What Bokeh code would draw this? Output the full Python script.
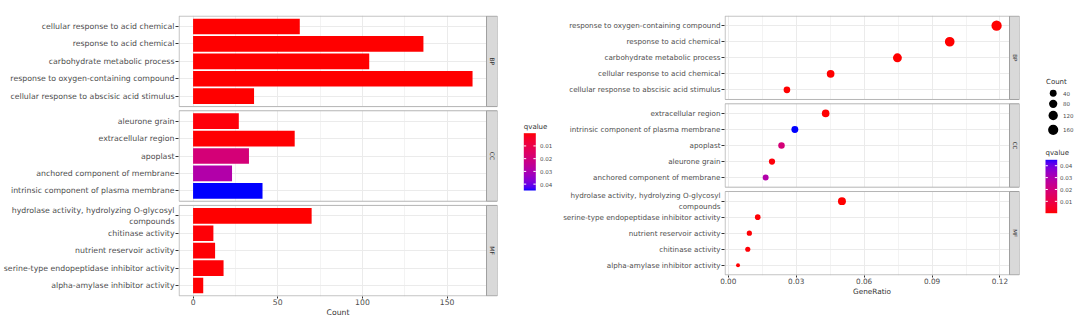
import math
import textwrap
import numpy as np
from bokeh.plotting import figure
from bokeh.models import (Range1d, FixedTicker, ColumnDataSource, LinearColorMapper,
                          PrintfTickFormatter)
from bokeh.layouts import row
from bokeh.embed import file_html
from bokeh.resources import INLINE
from bokeh.core.properties import value

# ---------------- data ----------------
terms = [
    "response to oxygen-containing compound",
    "response to acid chemical",
    "carbohydrate metabolic process",
    "cellular response to acid chemical",
    "cellular response to abscisic acid stimulus",
    "extracellular region",
    "intrinsic component of plasma membrane",
    "apoplast",
    "aleurone grain",
    "anchored component of membrane",
    "hydrolase activity, hydrolyzing O-glycosyl compounds",
    "serine-type endopeptidase inhibitor activity",
    "nutrient reservoir activity",
    "chitinase activity",
    "alpha-amylase inhibitor activity",
]
ontology = ["BP"] * 5 + ["CC"] * 5 + ["MF"] * 5
count = [165, 136, 104, 63, 36, 60, 41, 33, 27, 23, 70, 18, 13, 12, 6]
gene_ratio = [0.1185, 0.0978, 0.0747, 0.0452, 0.0259,
              0.0430, 0.0294, 0.0235, 0.0193, 0.0165,
              0.0502, 0.0130, 0.0093, 0.0086, 0.0043]
qvalue = [1e-7, 1e-7, 1e-6, 1e-5, 1e-4,
          0.0002, 0.045, 0.019, 0.0008, 0.029,
          1e-7, 0.0005, 0.0004, 0.0006, 0.0003]

ontologies = ["BP", "CC", "MF"]
# order of the bar chart rows (top to bottom) per panel
bar_order = {
    "BP": ["cellular response to acid chemical", "response to acid chemical",
           "carbohydrate metabolic process", "response to oxygen-containing compound",
           "cellular response to abscisic acid stimulus"],
    "CC": ["aleurone grain", "extracellular region", "apoplast",
           "anchored component of membrane", "intrinsic component of plasma membrane"],
    "MF": ["hydrolase activity, hydrolyzing O-glycosyl compounds", "chitinase activity",
           "nutrient reservoir activity", "serine-type endopeptidase inhibitor activity",
           "alpha-amylase inhibitor activity"],
}
count_breaks = [40, 80, 120, 160]
q_breaks = [0.01, 0.02, 0.03, 0.04]
count_ticks = [0, 50, 100, 150]
count_minor = [25, 75, 125]
ratio_ticks = [0.0, 0.03, 0.06, 0.09, 0.12]
ratio_minor = [0.015, 0.045, 0.075, 0.105]

# ---------------- style ----------------
FONT = "DejaVu Sans"
TXT = "#4D4D4D"
GRID = "#EBEBEB"
BORDER = "#B5B5B5"
STRIP_FILL = "#D9D9D9"
STRIP_LINE = "#A0A0A0"
H = 320
TOP_B, BOT_B = 15, 24


# ---------------- colour scale (red -> blue, Lab interpolation) ----------------
def _lin(c):
    c = c / 255.0
    return c / 12.92 if c <= 0.04045 else ((c + 0.055) / 1.055) ** 2.4


def _delin(c):
    c = max(0.0, min(1.0, c))
    c = 12.92 * c if c <= 0.0031308 else 1.055 * c ** (1 / 2.4) - 0.055
    return int(max(0, min(255, round(c * 255))))


XN, YN, ZN = 0.95047, 1.0, 1.08883


def rgb2lab(r, g, b):
    R, G, B = _lin(r), _lin(g), _lin(b)
    X = 0.4124564 * R + 0.3575761 * G + 0.1804375 * B
    Y = 0.2126729 * R + 0.7151522 * G + 0.0721750 * B
    Z = 0.0193339 * R + 0.1191920 * G + 0.9503041 * B

    def f(t):
        return t ** (1 / 3) if t > 216 / 24389 else (24389 / 27 * t + 16) / 116
    fx, fy, fz = f(X / XN), f(Y / YN), f(Z / ZN)
    return 116 * fy - 16, 500 * (fx - fy), 200 * (fy - fz)


def lab2hex(L, a, b):
    fy = (L + 16) / 116
    fx = fy + a / 500
    fz = fy - b / 200

    def finv(t):
        return t ** 3 if t ** 3 > 216 / 24389 else (116 * t - 16) / (24389 / 27)
    X, Y, Z = finv(fx) * XN, finv(fy) * YN, finv(fz) * ZN
    R = 3.2404542 * X - 1.5371385 * Y - 0.4985314 * Z
    G = -0.9692660 * X + 1.8760108 * Y + 0.0415560 * Z
    B = 0.0556434 * X - 0.2040259 * Y + 1.0572252 * Z
    return "#%02x%02x%02x" % (_delin(R), _delin(G), _delin(B))


lab_lo = rgb2lab(255, 0, 0)
lab_hi = rgb2lab(0, 0, 255)
palette = [lab2hex(*[lo + (hi - lo) * i / 255 for lo, hi in zip(lab_lo, lab_hi)]) for i in range(256)]

q_lo, q_hi = min(qvalue), max(qvalue)
mapper = LinearColorMapper(palette=palette, low=q_lo, high=q_hi)

# ---------------- helpers ----------------
PANEL = 5.2


def wrap_label(s):
    return "\n".join(textwrap.wrap(s, 42)) if len(s) > 45 else s


def layout_rows(orders, gap):
    total = 3 * PANEL + 2 * gap
    ys, names, panels = [], [], []
    for k, ont in enumerate(ontologies):
        top = total - k * (PANEL + gap)
        panels.append((top - PANEL, top))
        for i, t in enumerate(orders[ont]):
            ys.append(round(top - 0.6 - i, 4))
            names.append(t)
    return total, ys, names, panels


def style_fig(p, label_size, tick_size):
    p.outline_line_color = None
    p.background_fill_color = "white"
    for ax in (p.xaxis[0], p.yaxis[0]):
        ax.axis_line_color = None
        ax.major_tick_line_color = "#333333"
        ax.major_tick_out = 3
        ax.major_tick_in = 0
        ax.minor_tick_line_color = None
        ax.major_label_text_font = FONT
        ax.major_label_text_color = TXT
        ax.major_label_standoff = 1
    p.xaxis.major_tick_out = 2
    p.xaxis.major_label_standoff = 0
    p.yaxis.major_label_text_font_size = label_size
    p.xaxis.major_label_text_font_size = tick_size
    p.xaxis.axis_label_text_font = FONT
    p.xaxis.axis_label_text_font_style = "normal"
    p.xaxis.axis_label_text_font_size = tick_size
    p.xaxis.axis_label_text_color = "#333333"
    p.xaxis.axis_label_standoff = 0
    p.xgrid.grid_line_color = GRID
    p.xgrid.minor_grid_line_color = GRID
    p.xgrid.minor_grid_line_width = 0.6
    p.ygrid.grid_line_color = GRID


def decorate(p, panels, xlo, xhi_panel, xhi_frame, strip_font):
    # white gaps between panels (hide the grid there)
    for k in range(len(panels) - 1):
        p.quad(left=xlo - 1e3, right=xhi_frame + 1e3, bottom=panels[k + 1][1], top=panels[k][0],
               fill_color="white", line_color=None)
    for (b, t), ont in zip(panels, ontologies):
        p.quad(left=xlo, right=xhi_panel, bottom=b, top=t, fill_color=None,
               line_color=BORDER, line_width=1)
        p.quad(left=xhi_panel, right=xhi_frame, bottom=b, top=t, fill_color=STRIP_FILL,
               line_color=STRIP_LINE, line_width=1)
        p.text(x=[(xhi_panel + xhi_frame) / 2], y=[(b + t) / 2], text=[ont], angle=-math.pi / 2,
               text_align="center", text_baseline="middle", text_font=value(FONT),
               text_font_size=strip_font, text_color="#333333")


def legend_fig(width):
    # frame spans the whole width and y 15..296 px; data y = 320 - pixel row
    p = figure(width=width, height=H, x_range=Range1d(0, width), y_range=Range1d(BOT_B, H - TOP_B),
               min_border_left=0, min_border_right=0, min_border_top=TOP_B,
               min_border_bottom=BOT_B, output_backend="svg", toolbar_location=None,
               x_axis_location=None, y_axis_location=None, outline_line_color=None)
    p.grid.visible = False
    return p


def draw_colorbar(p, x0, top_px, bot_px, width, reverse, label_x):
    n = 200
    y0, y1 = H - bot_px, H - top_px
    if reverse:   # low q at top
        grad = np.linspace(q_hi, q_lo, n).reshape(n, 1)
    else:
        grad = np.linspace(q_lo, q_hi, n).reshape(n, 1)
    p.image(image=[grad], x=x0, y=y0, dw=width, dh=y1 - y0, color_mapper=mapper)
    ys = []
    for qb in q_breaks:
        frac = (qb - q_lo) / (q_hi - q_lo)
        ys.append(y1 - frac * (y1 - y0) if reverse else y0 + frac * (y1 - y0))
    tl = width * 0.2
    p.segment(x0=[x0] * len(ys), y0=ys, x1=[x0 + tl] * len(ys), y1=ys, line_color="white", line_width=1)
    p.segment(x0=[x0 + width - tl] * len(ys), y0=ys, x1=[x0 + width] * len(ys), y1=ys,
              line_color="white", line_width=1)
    p.text(x=[label_x] * len(ys), y=ys, text=["%.2f" % v for v in q_breaks], text_font=value(FONT),
           text_font_size="5.5px", text_color=TXT, text_align="left", text_baseline="middle")
    p.text(x=[x0], y=[y1 + 6.5], text=["qvalue"], text_font=value(FONT), text_font_size="7px",
           text_color="#333333", text_align="left", text_baseline="middle")


# ---------------- left: bar chart ----------------
lookup = {t: i for i, t in enumerate(terms)}
W1, LB1, RB1 = 510, 178, 13
STRIP1 = 11
H1 = H
T1, ys1, names1, panels1 = layout_rows(bar_order, 0.24)
cmax = max(count)
x1lo, x1hi = -0.05 * cmax, 1.05 * cmax
fw1 = W1 - LB1 - RB1
fh1 = H1 - TOP_B - BOT_B
x1frame = x1hi + (x1hi - x1lo) * STRIP1 / (fw1 - STRIP1)
pad_x1 = (x1frame - x1lo) / fw1 * 0.6
pad_y1 = T1 / fh1 * 0.6

src1 = ColumnDataSource(dict(
    y=ys1,
    count=[count[lookup[t]] for t in names1],
    q=[qvalue[lookup[t]] for t in names1],
))
p1 = figure(width=W1, height=H1, x_range=Range1d(x1lo - pad_x1, x1frame),
            y_range=Range1d(-pad_y1, T1 + pad_y1),
            min_border_left=LB1, min_border_right=RB1, min_border_top=TOP_B, min_border_bottom=BOT_B,
            output_backend="svg", toolbar_location=None)
style_fig(p1, "7.8px", "7.7px")
p1.xgrid.ticker = FixedTicker(ticks=count_ticks, minor_ticks=count_minor)
p1.ygrid.ticker = FixedTicker(ticks=ys1)
decorate(p1, panels1, x1lo, x1hi, x1frame, "6px")
p1.hbar(y="y", left=0, right="count", height=0.9, source=src1,
        fill_color={"field": "q", "transform": mapper}, line_color=None)
p1.xaxis.ticker = FixedTicker(ticks=count_ticks)
p1.xaxis.axis_label = "Count"
p1.yaxis.ticker = FixedTicker(ticks=ys1)
p1.yaxis.major_label_overrides = {y: wrap_label(t) for y, t in zip(ys1, names1)}

leg1 = legend_fig(50)
draw_colorbar(leg1, 13.3, 132.7, 190.0, 12, True, 29.5)

# ---------------- right: dot plot ----------------
dot_order = {}
for ont in ontologies:
    idx = [i for i in range(len(terms)) if ontology[i] == ont]
    idx.sort(key=lambda i: -gene_ratio[i])
    dot_order[ont] = [terms[i] for i in idx]

W2, LB2, RB2 = 460, 164, 1
H2 = 299
STRIP2 = 10
T2, ys2, names2, panels2 = layout_rows(dot_order, 0.27)
rmin, rmax = min(gene_ratio), max(gene_ratio)
x2lo, x2hi = rmin - 0.05 * (rmax - rmin), rmax + 0.05 * (rmax - rmin)
fw2 = W2 - LB2 - RB2
fh2 = H2 - TOP_B - BOT_B
x2frame = x2hi + (x2hi - x2lo) * STRIP2 / (fw2 - STRIP2)
pad_x2 = (x2frame - x2lo) / fw2 * 0.6
pad_y2 = T2 / fh2 * 0.6

D_MIN, D_MAX = 3.9, 10.3


def dot_size(v):
    return D_MIN + (D_MAX - D_MIN) * math.sqrt(max(0.0, (v - min(count)) / (max(count) - min(count))))


src2 = ColumnDataSource(dict(
    y=ys2,
    r=[gene_ratio[lookup[t]] for t in names2],
    q=[qvalue[lookup[t]] for t in names2],
    s=[dot_size(count[lookup[t]]) for t in names2],
))
p2 = figure(width=W2, height=H2, x_range=Range1d(x2lo - pad_x2, x2frame),
            y_range=Range1d(-pad_y2, T2 + pad_y2),
            min_border_left=LB2, min_border_right=RB2, min_border_top=TOP_B, min_border_bottom=BOT_B,
            output_backend="svg", toolbar_location=None)
style_fig(p2, "7.2px", "7.3px")
p2.xgrid.ticker = FixedTicker(ticks=ratio_ticks, minor_ticks=ratio_minor)
p2.ygrid.ticker = FixedTicker(ticks=ys2)
decorate(p2, panels2, x2lo, x2hi, x2frame, "5.5px")
p2.scatter(x="r", y="y", size="s", source=src2,
           fill_color={"field": "q", "transform": mapper}, line_color=None)
p2.xaxis.ticker = FixedTicker(ticks=ratio_ticks)
p2.xaxis.formatter = PrintfTickFormatter(format="%.2f")
p2.xaxis.axis_label = "GeneRatio"
p2.yaxis.ticker = FixedTicker(ticks=ys2)
p2.yaxis.major_label_overrides = {y: wrap_label(t) for y, t in zip(ys2, names2)}

# right legends
leg2 = legend_fig(60)
key_px = [92.7, 103.3, 115.0, 129.3]
key_y = [H - v for v in key_px]
leg2.text(x=[25.5], y=[H - 81], text=["Count"], text_font=value(FONT), text_font_size="7px",
          text_color="#333333", text_align="left", text_baseline="middle")
leg2.scatter(x=[32.7] * len(count_breaks), y=key_y, size=[dot_size(v) for v in count_breaks],
             fill_color="black", line_color=None)
leg2.text(x=[42.5] * len(count_breaks), y=key_y, text=[str(v) for v in count_breaks],
          text_font=value(FONT), text_font_size="5.5px", text_color=TXT,
          text_align="left", text_baseline="middle")
draw_colorbar(leg2, 25.0, 159.3, 212.7, 11.7, False, 39.5)

layout = row(p1, leg1, p2, leg2)
open("out.html", "w").write(file_html(layout, INLINE))
